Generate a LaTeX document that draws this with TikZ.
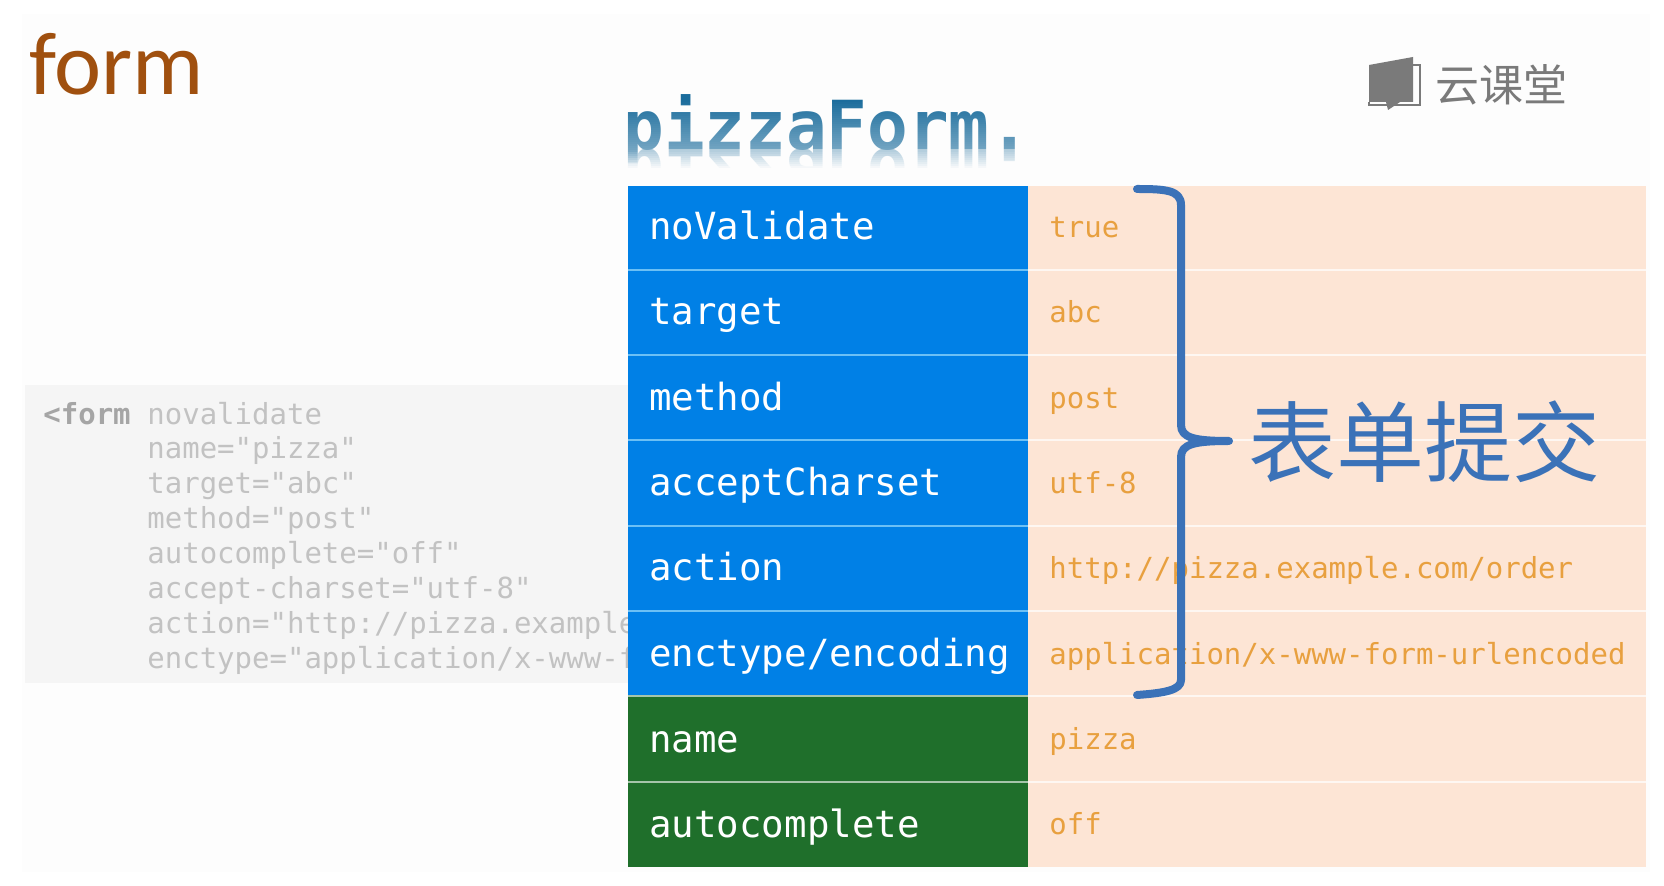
\documentclass[tikz,border=0pt]{standalone}
\usepackage{fontspec}
\setmainfont{Carlito}
\setmonofont{DejaVu Sans Mono}
\newfontfamily\cjk{Noto Sans CJK SC}
\definecolor{keyblue}{HTML}{0080E6}
\definecolor{keygreen}{HTML}{1F6F2B}
\definecolor{peach}{HTML}{FDE5D5}
\definecolor{valtext}{HTML}{E8A03F}
\definecolor{codebg}{HTML}{F5F5F5}
\definecolor{codetext}{HTML}{C2C2C2}
\definecolor{bracecol}{HTML}{3B72B8}
\definecolor{titlecol}{HTML}{A0500F}
\definecolor{logocol}{HTML}{7A7A7A}
\definecolor{pizzacol}{HTML}{1A6C9C}
\definecolor{pagebg}{HTML}{FDFDFD}
\definecolor{bluerule}{HTML}{6CC0F5}
\tikzset{
  keycell/.style={fill=#1,inner sep=0pt,outer sep=0pt,minimum width=200pt,minimum height=42.7pt},
  valcell/.style={fill=peach,inner sep=0pt,outer sep=0pt,minimum width=309pt,minimum height=42.7pt},
  firstrow/.style={minimum height=41.9pt},
  keylabel/.style={anchor=base west,inner sep=0pt,text=white,font=\ttfamily\fontsize{18.7pt}{18.7pt}\selectfont},
  vallabel/.style={anchor=base west,inner sep=0pt,text=valtext,font=\ttfamily\fontsize{14.5pt}{14.5pt}\selectfont},
  codelabel/.style={anchor=base west,inner sep=0pt,text=codetext,font=\ttfamily\fontsize{14.5pt}{14.5pt}\selectfont},
  keyrule/.style={draw=#1,line width=1pt},
  valrule/.style={draw=white!70!peach,line width=1pt},
  bracepath/.style={draw=bracecol,line width=4pt,line cap=round,line join=round},
  pizzatitle/.style={anchor=base west,inner sep=0pt,text=pizzacol,font=\ttfamily\bfseries\fontsize{33.8pt}{33.8pt}\selectfont}
}
\begin{document}
\begin{tikzpicture}[x=0.5pt,y=-0.5pt]
\useasboundingbox (0,0) rectangle (1664,886);
\fill[white] (0,0) rectangle (1664,886);
\fill[pagebg] (22,14) rectangle (1650,872);
% title
\node[anchor=base west,inner sep=0pt,text=titlecol,font=\fontsize{44.6pt}{44.6pt}\selectfont] (title) at (29,95) {form};
% logo
\fill[logocol] (1369,65) -- (1413,57) -- (1413,102) -- (1400,102) -- (1388,110) -- (1386,102) -- (1369,102) -- cycle;
\draw[logocol,line width=0.6pt] (1413,65) -- (1420,65) -- (1420,105) -- (1369,105) -- (1369,102);
\node[anchor=center,inner sep=0pt,text=logocol,font=\cjk\fontsize{22pt}{22pt}\selectfont] (logo) at (1501,85) {云课堂};
% pizzaForm
\node[pizzatitle,opacity=0.55,yscale=-1,transform shape] (pizzaR) at (623,150) {pizzaForm.};
\node[pizzatitle] (pizza) at (623,150) {pizzaForm.};
\foreach \i in {0,...,24}{
  \pgfmathsetmacro{\op}{0.01+0.38*\i/24}
  \fill[pagebg,fill opacity=\op] (615,{100+2*\i}) rectangle (1040,{102+2*\i});
}
\foreach \i in {0,...,9}{
  \pgfmathsetmacro{\op}{0.42+0.58*\i/9}
  \fill[pagebg,fill opacity=\op] (615,{150+2*\i}) rectangle (1040,{152+2*\i});
}
\fill[pagebg] (615,170) rectangle (1040,190);
% code block
\fill[codebg] (25,385) rectangle (640,683);
\node[codelabel,text=codetext!85!black,font=\ttfamily\bfseries\fontsize{14.5pt}{14.5pt}\selectfont] (c0) at (43,424.5) {<form};
\node[codelabel] (c1) at (147,424.5) {novalidate};
\node[codelabel] (c2) at (147,459) {name="pizza"};
\node[codelabel] (c3) at (147,494) {target="abc"};
\node[codelabel] (c4) at (147,529) {method="post"};
\node[codelabel] (c5) at (147,563.5) {autocomplete="off"};
\node[codelabel] (c6) at (147,598.5) {accept-charset="utf-8"};
\node[codelabel] (c7) at (147,633.5) {action="http://pizza.example};
\node[codelabel] (c8) at (147,668.5) {enctype="application/x-www-f};
% table cells
\node[keycell=keyblue,firstrow]  (k1) at (828,228) {};
\node[keycell=keyblue]  (k2) at (828,312.1) {};
\node[keycell=keyblue]  (k3) at (828,397.5) {};
\node[keycell=keyblue]  (k4) at (828,482.9) {};
\node[keycell=keyblue]  (k5) at (828,568.3) {};
\node[keycell=keyblue]  (k6) at (828,653.7) {};
\node[keycell=keygreen] (k7) at (828,739.1) {};
\node[keycell=keygreen] (k8) at (828,824.5) {};
\node[valcell,firstrow] (v1) at (1337,228) {};
\node[valcell] (v2) at (1337,312.1) {};
\node[valcell] (v3) at (1337,397.5) {};
\node[valcell] (v4) at (1337,482.9) {};
\node[valcell] (v5) at (1337,568.3) {};
\node[valcell] (v6) at (1337,653.7) {};
\node[valcell] (v7) at (1337,739.1) {};
\node[valcell] (v8) at (1337,824.5) {};
% rules
\foreach \r in {1,...,5}{
  \draw[keyrule=bluerule] (k\r.south west) -- (k\r.south east);
}
\draw[keyrule=white!60!keygreen] (k6.south west) -- (k6.south east);
\draw[keyrule=white!60!keygreen] (k7.south west) -- (k7.south east);
\foreach \r in {1,...,7}{
  \draw[valrule] (v\r.south west) -- (v\r.south east);
}
% key labels
\node[keylabel] (kt1) at (649,240) {noValidate};
\node[keylabel] (kt2) at (649,325) {target};
\node[keylabel] (kt3) at (649,411) {method};
\node[keylabel] (kt4) at (649,496) {acceptCharset};
\node[keylabel] (kt5) at (649,581) {action};
\node[keylabel] (kt6) at (649,667) {enctype/encoding};
\node[keylabel] (kt7) at (649,752) {name};
\node[keylabel] (kt8) at (649,837) {autocomplete};
% value labels
\node[vallabel] (vt1) at (1049,237.5) {true};
\node[vallabel] (vt2) at (1049,322.5) {abc};
\node[vallabel] (vt3) at (1049,408.5) {post};
\node[vallabel] (vt4) at (1049,493.5) {utf-8};
\node[vallabel] (vt5) at (1049,578.5) {http://pizza.example.com/order};
\node[vallabel] (vt6) at (1049,664.5) {application/x-www-form-urlencoded};
\node[vallabel] (vt7) at (1049,749) {pizza};
\node[vallabel] (vt8) at (1049,834.5) {off};
% brace
\coordinate (bt) at (1137,189);
\coordinate (bm) at (1229,441);
\coordinate (bb) at (1137,695);
\draw[bracepath] (bt) .. controls (1165,189) and (1181,190) .. (1181,205) -- (1181,425)
  .. controls (1181,438) and (1195,441) .. (bm) .. controls (1195,441) and (1181,444) .. (1181,457)
  -- (1181,680) .. controls (1181,690) and (1165,693) .. (bb);
% label
\node[anchor=center,inner sep=0pt,text=bracecol,font=\cjk\fontsize{44pt}{44pt}\selectfont] (submit) at (1424,442) {表单提交};
\end{tikzpicture}
\end{document}
